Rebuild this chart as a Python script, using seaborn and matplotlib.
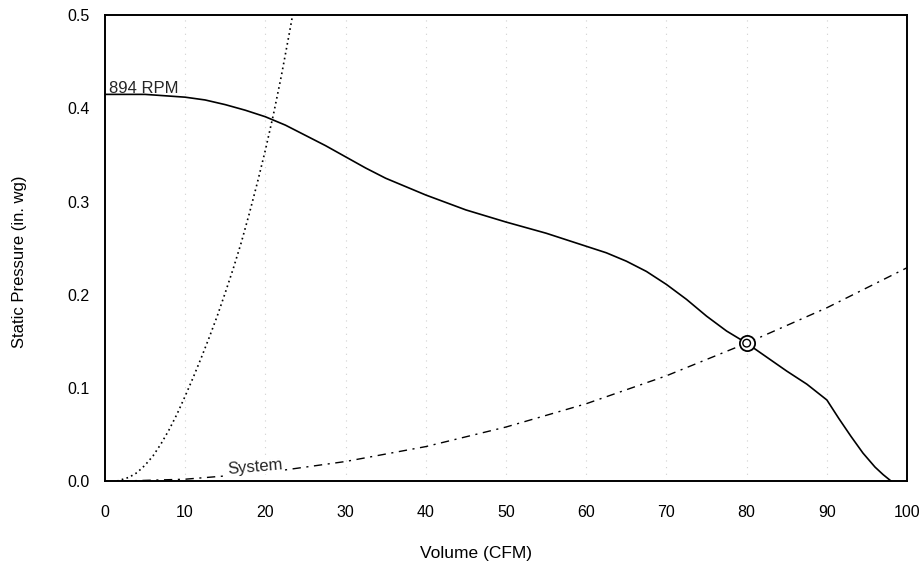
import matplotlib
matplotlib.use("Agg")
import matplotlib.pyplot as plt
import seaborn as sns
import pandas as pd

# Fan curve at 894 RPM
fan_cfm = [0, 5, 10, 12.5, 15, 17.5, 20, 22.5, 25, 27.5, 30, 32.5, 35, 37.5, 40,
           45, 50, 55, 57.5, 60, 62.5, 65, 67.5, 70, 72.5, 75, 77.5, 80, 82.5,
           85, 87.5, 90, 91.5, 93, 94.5, 96, 97, 98]
fan_sp = [0.415, 0.415, 0.412, 0.409, 0.404, 0.398, 0.391, 0.382, 0.371, 0.360,
          0.348, 0.336, 0.325, 0.316, 0.307, 0.291, 0.278, 0.266, 0.259, 0.252,
          0.245, 0.236, 0.225, 0.211, 0.195, 0.177, 0.161, 0.148, 0.133, 0.118,
          0.104, 0.087, 0.067, 0.048, 0.030, 0.015, 0.007, 0.0]

# steep dotted curve
steep_cfm = [1.5, 3, 4, 5, 6, 7, 8, 9, 10, 11, 12, 13, 14, 15, 16, 17, 18, 19,
             20, 21, 22, 23, 23.4]
steep_sp = [0.0, 0.004, 0.009, 0.017, 0.027, 0.040, 0.055, 0.072, 0.091, 0.111,
            0.132, 0.154, 0.177, 0.202, 0.228, 0.256, 0.287, 0.320, 0.355, 0.393,
            0.435, 0.481, 0.5]

# system curve
sys_cfm = [2, 10, 20, 30, 40, 50, 60, 70, 80, 90, 100]
sys_sp = [0.0, 0.002, 0.009, 0.021, 0.037, 0.058, 0.083, 0.113, 0.148, 0.186, 0.229]

# operating point
op_cfm = [80]
op_sp = [0.148]

x_ticks = [0, 10, 20, 30, 40, 50, 60, 70, 80, 90, 100]
y_ticks = [0.0, 0.1, 0.2, 0.3, 0.4, 0.5]

sns.set_theme(style="white")
plt.rcParams["font.family"] = ["Liberation Sans", "DejaVu Sans"]

fig = plt.figure(figsize=(9.2, 5.62), dpi=100)
ax = fig.add_axes([0.114, 0.144, 0.872, 0.829])

# faint vertical grid lines
for xv in x_ticks[1:-1]:
    ax.axvline(xv, color="#d0d0d0", linestyle=(0, (1, 5)), lw=0.8, zorder=0)

fan_df = pd.DataFrame({"cfm": fan_cfm, "sp": fan_sp})
steep_df = pd.DataFrame({"cfm": steep_cfm, "sp": steep_sp})
sys_df = pd.DataFrame({"cfm": sys_cfm, "sp": sys_sp})

sns.lineplot(data=fan_df, x="cfm", y="sp", ax=ax, color="black", lw=1.2, estimator=None)
sns.lineplot(data=steep_df, x="cfm", y="sp", ax=ax, color="black", lw=1.2,
             estimator=None, linestyle=(0, (1, 2)))
sns.lineplot(data=sys_df, x="cfm", y="sp", ax=ax, color="black", lw=1.0,
             estimator=None, linestyle=(0, (6, 4, 1.5, 4)))

ax.scatter(op_cfm, op_sp, s=120, facecolors="white", edgecolors="black", linewidths=1.3, zorder=5)
ax.scatter(op_cfm, op_sp, s=30, facecolors="none", edgecolors="black", linewidths=1.0, zorder=6)

ax.text(0.5, 0.417, "894 RPM", fontsize=12, ha="left", va="baseline")
ax.text(18.8, 0.015, "System", fontsize=12, ha="center", va="center", rotation=5,
        bbox=dict(facecolor="white", edgecolor="none", pad=0.5), zorder=4)

ax.set_xlim(0, 100)
ax.set_ylim(0, 0.5)
ax.set_xticks(x_ticks)
ax.set_yticks(y_ticks)
ax.set_yticklabels([f"{v:.1f}" for v in y_ticks])
ax.tick_params(axis="both", length=0, labelsize=11.5, colors="black")
ax.tick_params(axis="x", pad=17)
ax.tick_params(axis="y", pad=11)
ax.set_xlabel("Volume (CFM)", fontsize=12.5, color="black")
ax.set_ylabel("Static Pressure (in. wg)", fontsize=12, color="black")
ax.xaxis.set_label_coords(0.463, -0.139)
ax.yaxis.set_label_coords(-0.097, 0.47)

for sp in ax.spines.values():
    sp.set_color("black")
    sp.set_linewidth(1.4)

fig.savefig("out.png", dpi=100)
